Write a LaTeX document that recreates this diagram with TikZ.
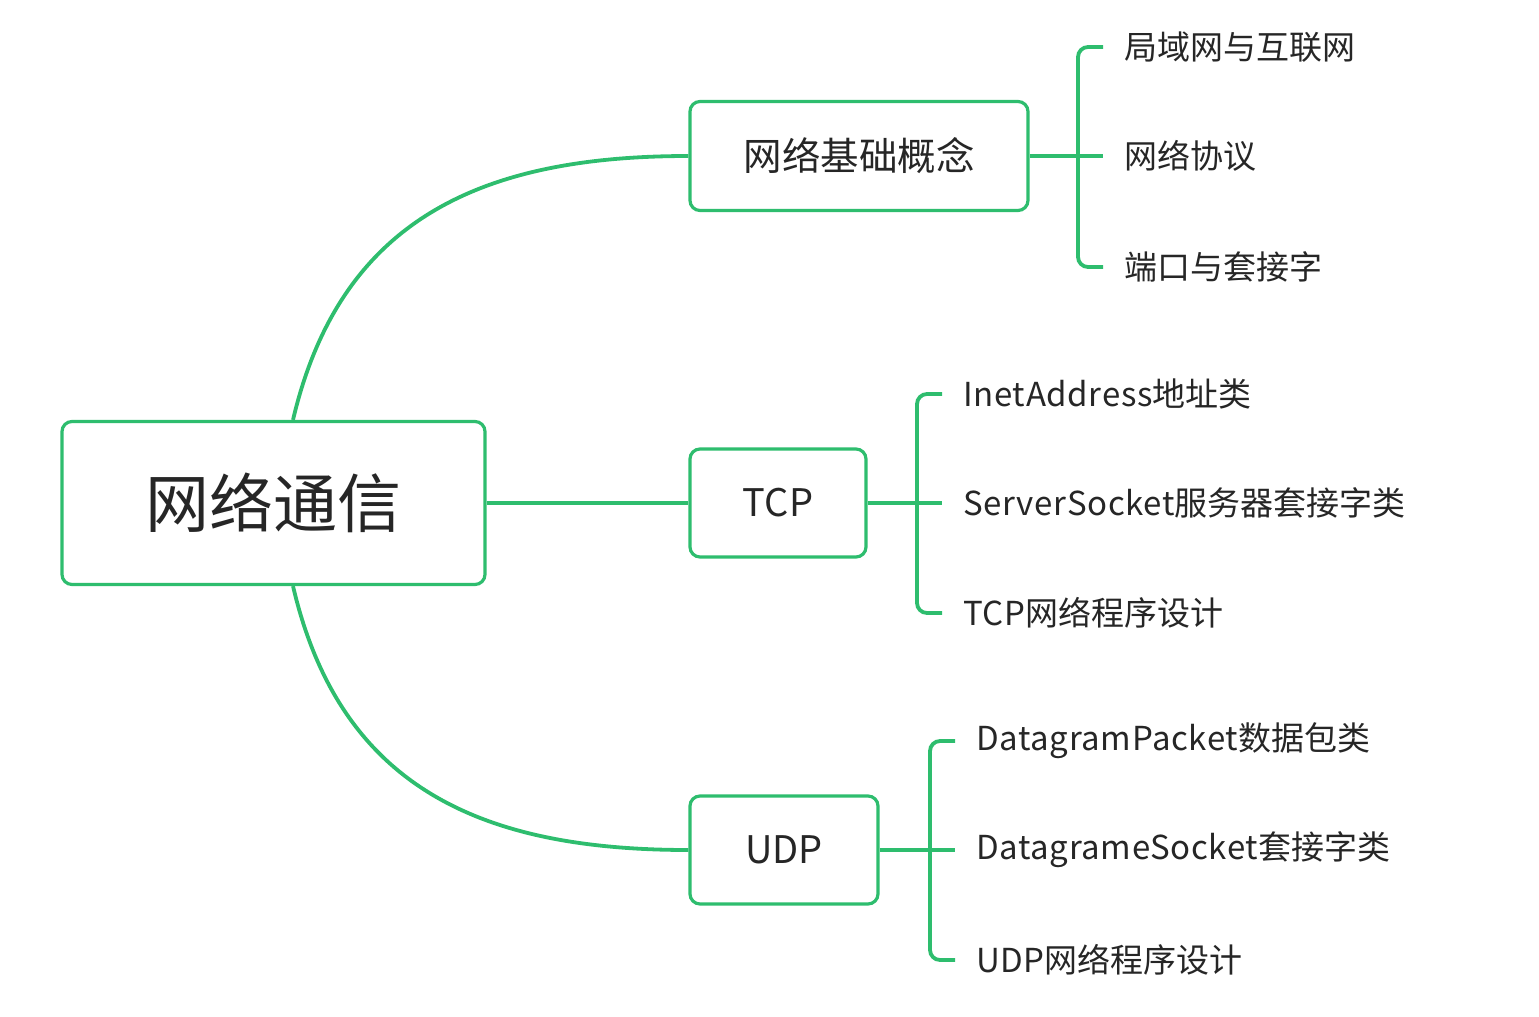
\documentclass[tikz,border=0pt]{standalone}
\usepackage{fontspec}
\setmainfont{Noto Sans CJK SC}
\newfontfamily\lat[LetterSpace=2]{Noto Sans CJK SC}
\definecolor{mmgreen}{RGB}{46,189,110}
\definecolor{txt}{RGB}{38,38,38}
\begin{document}
\begin{tikzpicture}[x=1pt,y=-1pt,
  box/.style={draw=mmgreen, line width=3.2pt, rounded corners=10pt, fill=white, text=txt, inner sep=0pt},
  leaf/.style={anchor=west, inner sep=0pt, text=txt, font=\fontsize{33}{38}\selectfont},
  conn/.style={draw=mmgreen, line width=3.8pt},
  bracket/.style={conn, rounded corners=10pt}]
\useasboundingbox (0,0) rectangle (1539,1017);

\node[box, minimum width=423pt, minimum height=163pt, font=\fontsize{64}{72}\selectfont] (root) at (273.5,503) {网络通信};
\node[box, minimum width=338pt, minimum height=109pt, font=\fontsize{38.5}{44}\selectfont] (basic) at (859,156) {网络基础概念};
\node[box, minimum width=176pt, minimum height=108pt, font=\fontsize{38}{44}\selectfont] (tcp) at (778,503) {TCP};
\node[box, minimum width=188pt, minimum height=108pt, font=\fontsize{38}{44}\selectfont] (udp) at (784,850) {UDP};

\node[leaf] (a1) at (1124,47) {局域网与互联网};
\node[leaf] (a2) at (1124,156) {网络协议};
\node[leaf] (a3) at (1124,267) {端口与套接字};

\node[leaf] (t1) at (963,394) {{\lat InetAddress}地址类};
\node[leaf] (t2) at (963,503) {{\lat ServerSocket}服务器套接字类};
\node[leaf] (t3) at (963,613) {{\lat TCP}网络程序设计};

\node[leaf] (u1) at (976,741) {{\lat DatagramPacket}数据包类};
\node[leaf] (u2) at (976,850) {{\lat DatagrameSocket}套接字类};
\node[leaf] (u3) at (976,960) {{\lat UDP}网络程序设计};

\coordinate (ba) at (1078,156);
\coordinate (bt) at (917,503);
\coordinate (bu) at (930,850);

% main branches
\draw[conn] ([xshift=19.5pt]root.north) .. controls (340,220) and (480,156) .. (basic.west);
\draw[conn] (root.east) -- (tcp.west);
\draw[conn] ([xshift=19.5pt]root.south) .. controls (340,787) and (480,850) .. (udp.west);

% brackets
\draw[conn] (basic.east) -- ([xshift=-21pt]a2.west);
\draw[bracket] ([xshift=-21pt]a1.west) -| (ba) |- ([xshift=-21pt]a3.west);

\draw[conn] (tcp.east) -- ([xshift=-21pt]t2.west);
\draw[bracket] ([xshift=-21pt]t1.west) -| (bt) |- ([xshift=-21pt]t3.west);

\draw[conn] (udp.east) -- ([xshift=-21pt]u2.west);
\draw[bracket] ([xshift=-21pt]u1.west) -| (bu) |- ([xshift=-21pt]u3.west);
\end{tikzpicture}
\end{document}
